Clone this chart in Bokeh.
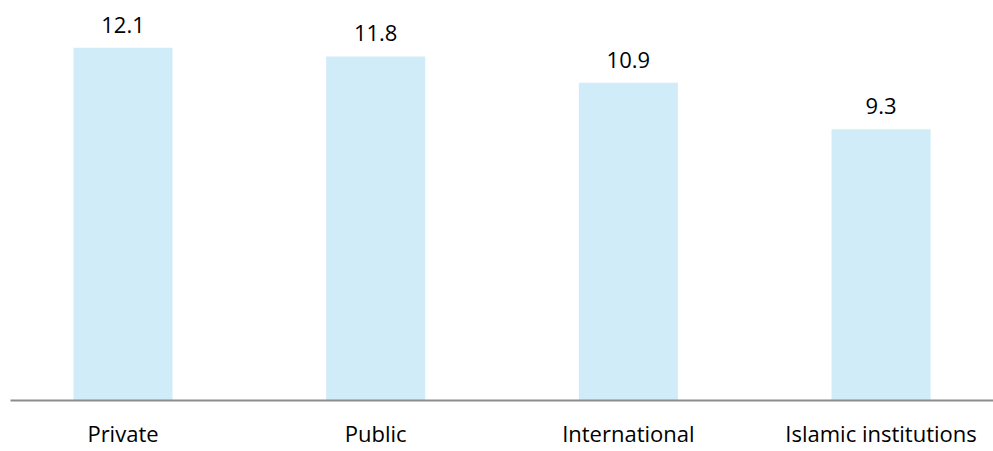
from bokeh.plotting import figure
from bokeh.models import ColumnDataSource, Range1d, FixedTicker
from bokeh.core.properties import value
from bokeh.embed import file_html
from bokeh.resources import INLINE

categories = ["Private", "Public", "International", "Islamic institutions"]
values = [12.1, 11.8, 10.9, 9.3]
value_labels = ["12.1", "11.8", "10.9", "9.3"]

xs = list(range(len(categories)))
src = ColumnDataSource(dict(x=xs, top=values, label=value_labels))

p = figure(width=993, height=451, output_backend="svg", toolbar_location=None,
           x_range=Range1d(-0.4452, 3.445), y_range=Range1d(0, 13.72),
           min_border_left=10, min_border_right=0, min_border_top=0, min_border_bottom=51)
p.outline_line_color = None
p.background_fill_color = "white"
p.border_fill_color = "white"
p.grid.visible = False
p.yaxis.visible = False

p.vbar(x="x", top="top", bottom=0, width=0.392, source=src,
       fill_color="#D1ECF9", line_color=None)

p.text(x="x", y="top", text="label", source=src, y_offset=-23,
       text_align="center", text_baseline="alphabetic",
       text_font=value("Open Sans"), text_font_size="22px", text_color="#000000")

ax = p.xaxis[0]
ax.ticker = FixedTicker(ticks=xs)
ax.major_label_overrides = {i: c for i, c in zip(xs, categories)}
ax.major_tick_line_color = None
ax.minor_tick_line_color = None
ax.major_tick_out = 0
ax.major_tick_in = 0
ax.axis_line_color = "#8C8C8C"
ax.axis_line_width = 2
ax.major_label_standoff = 17
ax.major_label_text_font = "Open Sans"
ax.major_label_text_font_size = "22px"
ax.major_label_text_color = "#000000"

open("out.html", "w").write(file_html(p, INLINE))
